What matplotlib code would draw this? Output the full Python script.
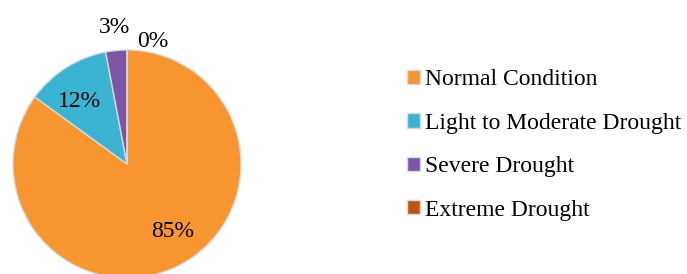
import numpy as np
import matplotlib.pyplot as plt

# drought classes and their shares (%)
labels = ['Normal Condition', 'Light to Moderate Drought', 'Severe Drought', 'Extreme Drought']
shares = [85, 12, 3, 0]
colors = ['#F7962F', '#3BB4D3', '#7D55A6', '#C4520F']

plt.rcParams['font.family'] = ['Liberation Serif', 'DejaVu Serif']

fig = plt.figure(figsize=(6.87, 2.74), dpi=100)
ax = fig.add_axes([13 / 687, -4 / 274, 228 / 687, 228 / 274])

wedges, texts, autotexts = ax.pie(
    shares, colors=colors, startangle=90, counterclock=False,
    autopct='%.0f%%', pctdistance=0.7,
    wedgeprops=dict(edgecolor='#d9d9d9', linewidth=1.0),
    textprops=dict(fontsize=17, color='black'))
ax.set_xlim(-1, 1)
ax.set_ylim(-1, 1)

# push the small slices' labels outside the pie, nudge the big ones
for w, t in zip(wedges, autotexts):
    span = w.theta2 - w.theta1
    mid = (w.theta1 + w.theta2) / 2
    if span < 1:
        ang, r = mid - 12, 1.1
    elif span < 20:
        ang, r = mid, 1.2
    elif span > 180:
        ang, r = mid + 7, 0.71
    else:
        ang, r = mid + 5, 0.69
    ang = np.deg2rad(ang)
    t.set_position((r * np.cos(ang), r * np.sin(ang)))
    t.set_clip_on(False)

fig.legend(wedges, labels, loc='center left', bbox_to_anchor=(407 / 687, (274 - 145) / 274),
           frameon=False, fontsize=17, handlelength=0.55, handleheight=0.55,
           handletextpad=0.2, labelspacing=0.95, borderpad=0, borderaxespad=0)

fig.savefig('out.png', dpi=100)
